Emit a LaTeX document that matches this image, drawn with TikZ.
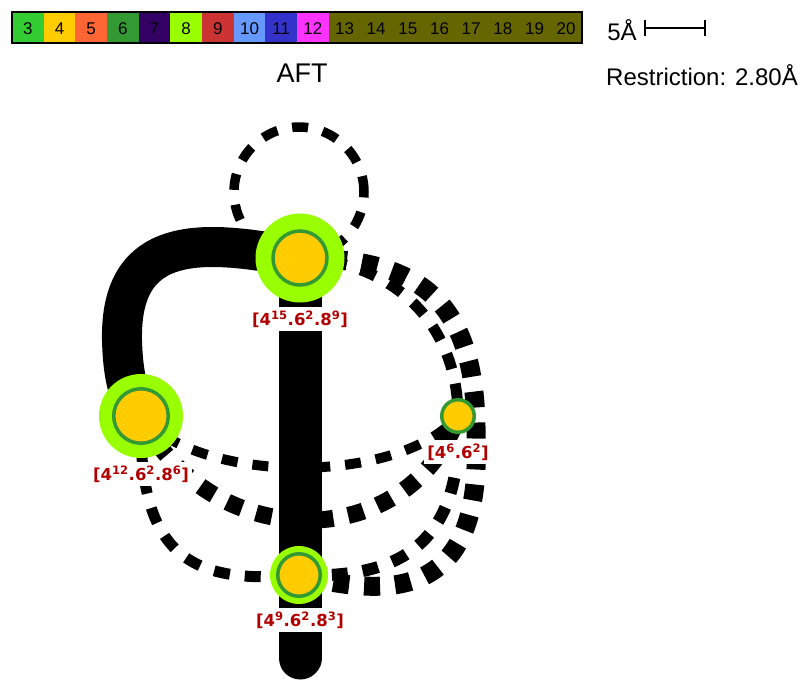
\documentclass[tikz,border=0pt]{standalone}
\usepackage{fontspec}
\setmainfont{Liberation Sans}
\newfontfamily\labfont{DejaVu Sans}
\definecolor{cA}{HTML}{33CC33}
\definecolor{cB}{HTML}{FFCC00}
\definecolor{cC}{HTML}{FF6633}
\definecolor{cD}{HTML}{339933}
\definecolor{cE}{HTML}{330066}
\definecolor{cF}{HTML}{99FF00}
\definecolor{cG}{HTML}{CC3333}
\definecolor{cH}{HTML}{6699FF}
\definecolor{cI}{HTML}{3333CC}
\definecolor{cJ}{HTML}{FF33FF}
\definecolor{cK}{HTML}{666600}
\definecolor{labred}{HTML}{B20000}
\begin{document}
\begin{tikzpicture}[x=1pt,y=-1pt,
  ring/.style={circle, fill=cF, inner sep=0pt, minimum size=#1},
  core/.style={circle, fill=cB, draw=cD, line width=3.5pt, inner sep=0pt, minimum size=#1},
  lab/.style={fill=white, text=labred, inner sep=3pt, font=\labfont\bfseries\fontsize{16.5}{20}\selectfont},
  dedge/.style={line width=#1, dash pattern=on 16pt off 15pt},
  sedge/.style={line width=#1},
  barnum/.style={font=\fontsize{17}{20}\selectfont, inner sep=0pt}]
\useasboundingbox (0,0) rectangle (807,681);

% colour bar
\foreach \n/\c [count=\i from 0] in {3/cA,4/cB,5/cC,6/cD,7/cE,8/cF,9/cG,10/cH,11/cI,12/cJ,13/cK,14/cK,15/cK,16/cK,17/cK,18/cK,19/cK,20/cK}{
  \fill[\c] ({12+31.667*\i},12) rectangle ({12+31.667*(\i+1)},43);
  \node[barnum] (n\n) at ({12+31.667*(\i+0.5)},28.5) {\n};
}
\draw[line width=2pt] (12,12) rectangle (582,43);

% scale
\node[font=\fontsize{24}{28}\selectfont, inner sep=0pt] (five) at (622,30) {5Å};
\coordinate (s1) at (645,28);
\coordinate (s2) at (705,28);
\draw[line width=1.5pt] (s1) -- (s2);
\draw[line width=1.5pt] ([yshift=8pt]s1) -- ([yshift=-8pt]s1);
\draw[line width=1.5pt] ([yshift=8pt]s2) -- ([yshift=-8pt]s2);

\node[font=\fontsize{27}{30}\selectfont, inner sep=0pt] (title) at (302,73) {AFT};
\node[font=\fontsize{24}{28}\selectfont, inner sep=0pt] (restr) at (702,75) {Restriction: 2.80Å};

% node positions
\coordinate (A) at (300,258);
\coordinate (B) at (141,416);
\coordinate (C) at (458,416);
\coordinate (D) at (299,575);
\coordinate (E) at (300,658);

% dashed edges
\draw[dedge=9.5pt] (A) ++(-1,-66) circle[radius=65pt];
\draw[dedge=11pt] (A) .. controls (400,262) and (458,330) .. (C);
\draw[dedge=19pt] (A) .. controls (420,258) and (478,300) .. (476,440)
      .. controls (482,600) and (390,598) .. (D);
\draw[dedge=12pt] (C) .. controls (465,560) and (380,578) .. (D);
\draw[dedge=10pt] (B) .. controls (200,485) and (400,485) .. (C);
\draw[dedge=17pt] (B) .. controls (210,555) and (410,555) .. (C);
\draw[dedge=11pt] (B) .. controls (138,555) and (190,585) .. (D);

% solid edges
\draw[sedge=40pt] (A) .. controls (200,238) and (120,235) .. (122,340)
      .. controls (123,380) and (130,400) .. (B);
\draw[sedge=43pt, line cap=round] (A) -- (E);

% atoms
\node[ring=89pt] (Ar) at (A) {};
\node[core=54pt] (Ac) at (A) {};
\node[ring=84pt] (Br) at (B) {};
\node[core=54.5pt] (Bc) at (B) {};
\node[core=32.5pt] (Cc) at (C) {};
\node[ring=58pt] (Dr) at (D) {};
\node[core=42.5pt] (Dc) at (D) {};

% labels
\node[lab] (LA) at (300,319) {[4\textsuperscript{15}.6\textsuperscript{2}.8\textsuperscript{9}]};
\node[lab] (LB) at (141,474) {[4\textsuperscript{12}.6\textsuperscript{2}.8\textsuperscript{6}]};
\node[lab] (LC) at (458,452) {[4\textsuperscript{6}.6\textsuperscript{2}]};
\node[lab] (LD) at (300,620) {[4\textsuperscript{9}.6\textsuperscript{2}.8\textsuperscript{3}]};
\end{tikzpicture}
\end{document}
